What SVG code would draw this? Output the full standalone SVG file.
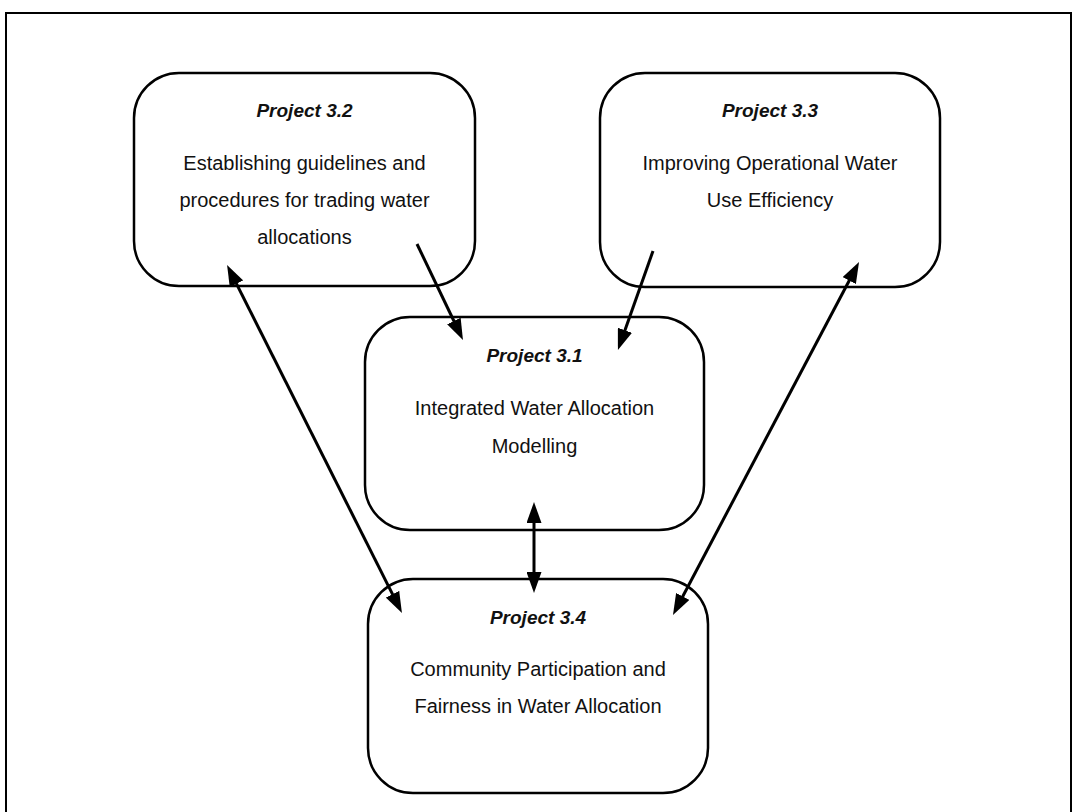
<svg xmlns="http://www.w3.org/2000/svg" width="1073" height="812" viewBox="0 0 1073 812">
<style>
  .frame { fill: none; stroke: #000; stroke-width: 2; }
  .box { fill: #fff; stroke: #000; stroke-width: 2.5; }
  .title { font-family: "Liberation Sans", Arial, sans-serif; font-size: 19px; font-weight: bold; font-style: italic; fill: #111; text-anchor: middle; }
  .body { font-family: "Liberation Sans", Arial, sans-serif; font-size: 20px; fill: #111; text-anchor: middle; }
  .conn { fill: none; stroke: #000; stroke-width: 3; }
</style>
<defs>
  <marker id="ah" markerUnits="userSpaceOnUse" markerWidth="21" markerHeight="15" refX="10" refY="7.5" orient="auto-start-reverse">
    <path d="M0,0 L21,7.5 L0,15 z" fill="#000"/>
  </marker>
</defs>
<rect width="1073" height="812" fill="#fff"/>
<rect class="frame" x="6" y="13" width="1065" height="820"/>

<g id="node-3-2">
  <rect class="box" x="134" y="73" width="341" height="213" rx="45" ry="45"/>
  <text class="title" x="304.5" y="117">Project 3.2</text>
  <text class="body" x="304.5" y="170">Establishing guidelines and</text>
  <text class="body" x="304.5" y="207">procedures for trading water</text>
  <text class="body" x="304.5" y="244">allocations</text>
</g>

<g id="node-3-3">
  <rect class="box" x="600" y="73" width="340" height="214" rx="45" ry="45"/>
  <text class="title" x="770" y="117">Project 3.3</text>
  <text class="body" x="770" y="170">Improving Operational Water</text>
  <text class="body" x="770" y="207">Use Efficiency</text>
</g>

<g id="node-3-1">
  <rect class="box" x="365" y="317" width="339" height="213" rx="45" ry="45"/>
  <text class="title" x="534.5" y="362">Project 3.1</text>
  <text class="body" x="534.5" y="415">Integrated Water Allocation</text>
  <text class="body" x="534.5" y="453">Modelling</text>
</g>

<g id="node-3-4">
  <rect class="box" x="368" y="579" width="340" height="214" rx="45" ry="45"/>
  <text class="title" x="538" y="624">Project 3.4</text>
  <text class="body" x="538" y="676">Community Participation and</text>
  <text class="body" x="538" y="713">Fairness in Water Allocation</text>
</g>

<g id="connectors">
  <line class="conn" x1="417" y1="244" x2="458.2" y2="330" marker-end="url(#ah)"/>
  <line class="conn" x1="653" y1="251" x2="621.6" y2="339.7" marker-end="url(#ah)"/>
  <line class="conn" x1="232" y1="274.8" x2="397" y2="603.2" marker-start="url(#ah)" marker-end="url(#ah)"/>
  <line class="conn" x1="853.9" y1="271.7" x2="678.1" y2="605.3" marker-start="url(#ah)" marker-end="url(#ah)"/>
  <line class="conn" x1="534" y1="513" x2="534" y2="582" marker-start="url(#ah)" marker-end="url(#ah)"/>
</g>
</svg>
